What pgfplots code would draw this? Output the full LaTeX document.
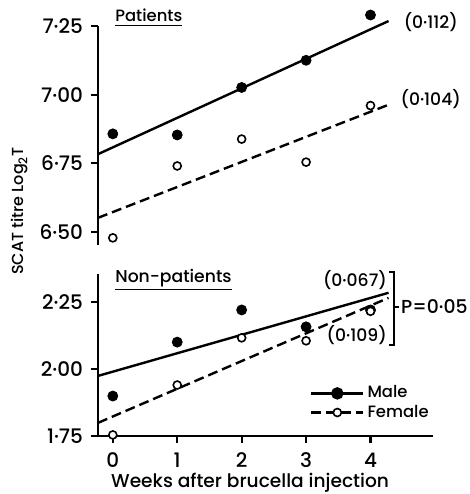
\documentclass[border=0pt]{standalone}
\usepackage{fontspec}
\setmainfont{Poppins}[UprightFont=* Medium]
\usepackage{pgfplots}
\pgfplotsset{compat=1.18}

\begin{document}
\begin{tikzpicture}[font=\fontsize{8.6}{10}\selectfont]
% frame of the reference picture, origin at the lower axis corner
\useasboundingbox (-49pt,-29pt) rectangle (186pt,218pt);
\pgfplotsset{
  panel/.style={
    scale only axis, width=167.5pt, xmin=-0.23, xmax=4.97,
    axis line style={line width=1.3pt}, axis y line*=left,
    tick style={line width=1.1pt, black}, major tick length=3.5pt, tick align=outside,
    clip=false,
    every tick label/.append style={font=\fontsize{10}{11}\selectfont},
    yticklabel style={xshift=-0.5pt},
  },
  maleline/.style={black, line width=1.2pt},
  femaleline/.style={black, line width=1.2pt, dash pattern=on 5pt off 2.5pt},
  malemark/.style={only marks, mark=*, mark size=2.5pt, mark options={solid, fill=black}},
  femalemark/.style={only marks, mark=*, mark size=2pt, mark options={solid, fill=white, draw=black, line width=0.8pt}},
}

% lower panel: non-patients
\begin{axis}[panel, height=81pt, ymin=1.75, ymax=2.354,
    axis x line*=bottom,
    xtick={0,1,2,3,4}, xticklabels={0,1,2,3,4},
    xticklabel style={yshift=-1.5pt},
    ytick={1.75,2,2.25}, yticklabels={1·75,2·00,2·25},
    xlabel={Weeks after brucella injection},
    xlabel style={at={(axis description cs:0.454,0)}, anchor=center, yshift=-23.5pt,
      font=\fontsize{9.3}{10}\selectfont},
    legend style={draw=none, fill=none, at={(0.632,0.204)}, anchor=west,
      inner sep=0pt, row sep=-1pt, nodes={inner sep=1.5pt},
      font=\fontsize{8.2}{9}\selectfont},
    legend cell align=left,
    legend image code/.code={\draw[mark repeat=2, mark phase=2, #1]
      plot coordinates {(0pt,0pt) (13pt,0pt) (26pt,0pt)};},
]
\addlegendimage{maleline, mark=*, mark size=2.5pt, mark options={solid, fill=black}}
\addlegendentry{Male}
\addlegendimage{femaleline, mark=*, mark size=2pt, mark options={solid, fill=white, draw=black, line width=0.8pt}}
\addlegendentry{Female}
\addplot[maleline, forget plot] coordinates {(-0.23,1.974) (4.28,2.284)};
\addplot[femaleline, forget plot] coordinates {(-0.23,1.799) (4.28,2.265)};
\addplot[malemark, forget plot] coordinates {(0,1.899) (1,2.10) (2,2.22) (3,2.157) (4,2.22)};
\addplot[femalemark, forget plot] coordinates {(0,1.754) (1,1.94) (2,2.116) (3,2.105) (4,2.215)};
\node[anchor=west] at (axis cs:-0.07,2.332) {\underline{Non-patients}};
\node[anchor=east, inner sep=0pt] at (axis cs:4.26,2.332) {(0·067)};
\node[anchor=east, inner sep=0pt] at (axis cs:4.26,2.127) {(0·109)};
\draw[line width=1.1pt] (axis cs:4.29,2.362) -- (axis cs:4.37,2.362)
  -- (axis cs:4.37,2.09) -- (axis cs:4.29,2.09);
\draw[line width=0.9pt] (axis cs:4.37,2.232) -- (axis cs:4.45,2.232);
\node[anchor=west, inner sep=0pt, font=\fontsize{9.4}{10}\selectfont] at (axis cs:4.47,2.232) {P=0·05};
\end{axis}

% upper panel: patients
\begin{axis}[panel, at={(0,95.5pt)}, anchor=south west, height=109.5pt,
    ymin=6.452, ymax=7.25, axis x line=none,
    ytick={6.5,6.75,7,7.25}, yticklabels={6·50,6·75,7·00,7·25},
]
\addplot[maleline] coordinates {(-0.23,6.783) (4.28,7.268)};
\addplot[femaleline] coordinates {(-0.23,6.551) (4.28,6.963)};
\addplot[malemark] coordinates {(0,6.857) (1,6.853) (2,7.026) (3,7.125) (4,7.29)};
\addplot[femalemark] coordinates {(0,6.478) (1,6.74) (2,6.838) (3,6.754) (4,6.96)};
\node[anchor=west, font=\fontsize{8.2}{9}\selectfont] at (axis cs:-0.07,7.28) {\underline{Patients}};
\node[anchor=west, inner sep=0pt] at (axis cs:4.51,7.265) {(0·112)};
\node[anchor=west, inner sep=0pt] at (axis cs:4.46,6.985) {(0·104)};
\end{axis}

\node[rotate=90, font=\fontsize{8}{9}\selectfont] at (-39pt,112.5pt) {SCAT titre Log\textsubscript{2}T};
\end{tikzpicture}
\end{document}
